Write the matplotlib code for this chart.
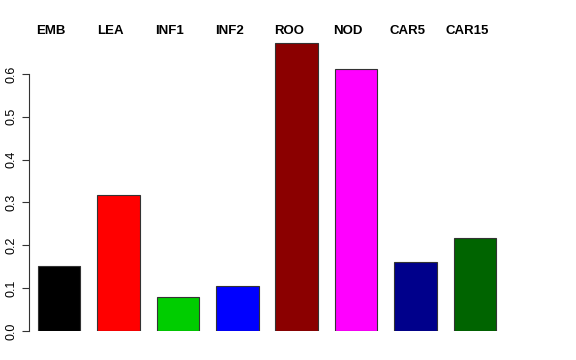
import matplotlib
matplotlib.use('Agg')
import matplotlib.pyplot as plt
import numpy as np

tissues = ['EMB', 'LEA', 'INF1', 'INF2', 'ROO', 'NOD', 'CAR5', 'CAR15']
values = [0.152, 0.318, 0.079, 0.105, 0.672, 0.612, 0.161, 0.217]
colors = ['black', 'red', '#00CD00', 'blue', '#8B0000', 'magenta', '#00008B', '#006400']

plt.rcParams['font.family'] = ['Liberation Sans', 'DejaVu Sans']

fig = plt.figure(figsize=(5.76, 3.6), dpi=100)
ax = fig.add_axes([29 / 576, 29 / 360, 476 / 576, 291 / 360])

space = 0.4
width = 1.0
x = space + width / 2 + np.arange(len(values)) * (width + space)
ax.bar(x, values, width=width, color=colors, edgecolor='#333333', linewidth=0.8)

ax.set_xlim(0.19, 11.41)
ax.set_ylim(0, 0.679)

for side in ['top', 'right', 'bottom']:
    ax.spines[side].set_visible(False)
ax.spines['left'].set_bounds(0, 0.6)
ax.spines['left'].set_color('#333333')
ax.set_xticks([])
ax.set_yticks(np.arange(0, 0.61, 0.1))
ax.set_yticklabels(['%.1f' % v for v in np.arange(0, 0.61, 0.1)], rotation=90, va='center', fontsize=9)
ax.tick_params(axis='y', length=5, width=0.8, color='#333333', pad=3)

for xi, name in zip(x, tissues):
    ax.text(xi - 0.19, 1.0 + 9 / 291, name, transform=ax.get_xaxis_transform(),
            ha='center', va='center', fontsize=9.5, fontweight='bold')

fig.savefig('out.png', dpi=100)
